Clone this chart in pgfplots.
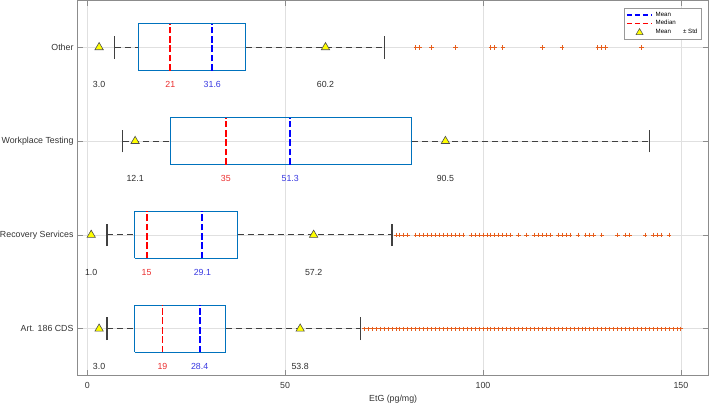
\documentclass[border=0pt]{standalone}
\usepackage{pgfplots}
\pgfplotsset{compat=1.18}
\usepackage{fontspec}
\setmainfont{Liberation Sans}
\definecolor{boxc}{RGB}{0,114,189}
\definecolor{outc}{RGB}{230,95,30}
\definecolor{medc}{RGB}{255,0,0}
\definecolor{meanc}{RGB}{0,0,255}
\definecolor{medtxt}{RGB}{235,45,45}
\definecolor{meantxt}{RGB}{55,55,225}
\definecolor{txtc}{RGB}{45,45,45}
\definecolor{trif}{RGB}{255,255,0}
\begin{document}
\begin{tikzpicture}
\begin{axis}[
  scale only axis, width=472.4pt, height=281pt,
  xmin=-2.4, xmax=157, ymin=0.5, ymax=4.5,
  xtick={0,50,100,150}, ytick={1,2,3,4},
  yticklabels={Art. 186 CDS, Recovery Services, Workplace Testing, Other},
  tick align=inside, major tick length=4.3pt,
  xtick pos=both, ytick pos=both,
  axis line style={black!45, line width=0.6pt},
  tick style={black!45, line width=0.5pt},
  grid=major, major grid style={black!12, line width=0.5pt},
  tick label style={font=\fontsize{6.6}{7.5}\selectfont, text=black!80},
  xticklabel style={yshift=-1.5pt},
  yticklabel style={inner xsep=0pt, xshift=-3pt},
  /pgf/number format/assume math mode=true,
  xlabel={EtG (pg/mg)},
  xlabel style={font=\fontsize{6.6}{7.5}\selectfont, text=black!80, yshift=2pt},
  legend style={at={(0.989,0.981)}, anchor=north east, draw=black!40, line width=0.4pt,
    font=\fontsize{4.6}{5}\selectfont, inner sep=1pt, row sep=-2.2pt, cells={anchor=west}},
  unbounded coords=jump,
]
% legend
\addlegendimage{meanc, line width=1.2pt, dash pattern=on 3.5pt off 2.5pt,
  legend image code/.code={\draw[meanc, line width=1.2pt, dash pattern=on 3.5pt off 2.5pt] (0pt,0pt) -- (19pt,0pt);}}
\addlegendentry{Mean}
\addlegendimage{medc, line width=1.2pt, dash pattern=on 3.5pt off 2.5pt,
  legend image code/.code={\draw[medc, line width=1.2pt, dash pattern=on 3.5pt off 2.5pt] (0pt,0pt) -- (19pt,0pt);}}
\addlegendentry{Median}
\addlegendimage{only marks,
  legend image code/.code={\draw[mark=triangle*, mark size=3pt, mark options={fill=trif, draw=black!70, line width=0.4pt}] plot coordinates {(9.5pt,0pt)};}}
\addlegendentry{Mean\hspace{9pt}±\ Std}

% whiskers (dashed)
\addplot[forget plot, black!75, line width=0.8pt, dash pattern=on 4.5pt off 3pt] coordinates {
 (7,4) (13,4) (nan,nan) (40,4) (75,4) (nan,nan)
 (9,3) (21,3) (nan,nan) (82,3) (142,3) (nan,nan)
 (5,2) (12,2) (nan,nan) (38,2) (77,2) (nan,nan)
 (5,1) (12,1) (nan,nan) (35,1) (69,1)
};
% whisker caps
\addplot[forget plot, black!75, line width=0.8pt] coordinates {
 (7,3.88) (7,4.12) (nan,nan) (75,3.88) (75,4.12) (nan,nan)
 (9,2.88) (9,3.12) (nan,nan) (142,2.88) (142,3.12) (nan,nan)
 (5,1.88) (5,2.12) (nan,nan) (77,1.88) (77,2.12) (nan,nan)
 (5,0.88) (5,1.12) (nan,nan) (69,0.88) (69,1.12)
};
% boxes
\addplot[forget plot, boxc, line width=0.8pt] coordinates {
 (13,3.75) (40,3.75) (40,4.25) (13,4.25) (13,3.75) (nan,nan)
 (21,2.75) (82,2.75) (82,3.25) (21,3.25) (21,2.75) (nan,nan)
 (12,1.75) (38,1.75) (38,2.25) (12,2.25) (12,1.75) (nan,nan)
 (12,0.75) (35,0.75) (35,1.25) (12,1.25) (12,0.75)
};
% medians
\addplot[forget plot, medc, line width=1.4pt, dash pattern=on 5pt off 2pt] coordinates {
 (21,3.75) (21,4.25) (nan,nan)
 (35,2.75) (35,3.25) (nan,nan)
 (15,1.75) (15,2.25) (nan,nan)
 (19,0.75) (19,1.25)
};
% means
\addplot[forget plot, meanc, line width=1.4pt, dash pattern=on 5pt off 2pt] coordinates {
 (31.6,3.75) (31.6,4.25) (nan,nan)
 (51.3,2.75) (51.3,3.25) (nan,nan)
 (29.1,1.75) (29.1,2.25) (nan,nan)
 (28.4,0.75) (28.4,1.25)
};
% mean +- std triangles
\addplot[forget plot, only marks, mark=triangle*, mark size=3.6pt,
  mark options={fill=trif, draw=black!70, line width=0.45pt}] coordinates {
 (3.0,4) (60.2,4) (12.1,3) (90.5,3) (1.0,2) (57.2,2) (3.0,1) (53.8,1)
};
% outliers
\addplot[forget plot, only marks, mark=+, mark size=1.65pt, outc, line width=0.65pt]
 table[row sep=\\] {
 x y\\
 83 4\\ 84 4\\ 87 4\\ 93 4\\ 102 4\\ 103 4\\ 105 4\\ 115 4\\ 120 4\\ 129 4\\ 130 4\\ 131 4\\ 140 4\\
 78 2\\ 79 2\\ 80 2\\ 81 2\\
 83 2\\ 84 2\\ 85 2\\ 86 2\\ 87 2\\ 88 2\\ 89 2\\ 90 2\\ 91 2\\ 92 2\\ 93 2\\ 94 2\\ 95 2\\
 97 2\\ 98 2\\ 99 2\\ 100 2\\ 101 2\\ 102 2\\ 103 2\\ 104 2\\ 105 2\\ 106 2\\ 107 2\\
 109 2\\ 111 2\\ 113 2\\ 114 2\\ 115 2\\ 116 2\\ 117 2\\ 119 2\\ 120 2\\ 121 2\\ 122 2\\
 124 2\\ 126 2\\ 127 2\\ 128 2\\ 130 2\\ 134 2\\ 136 2\\ 137 2\\ 141 2\\ 143 2\\ 144 2\\ 145 2\\ 147 2\\
 70 1\\ 71 1\\ 72 1\\ 73 1\\ 74 1\\ 75 1\\ 76 1\\ 77 1\\ 78 1\\ 79 1\\
 80 1\\ 81 1\\ 82 1\\ 83 1\\ 84 1\\ 85 1\\ 86 1\\ 87 1\\ 88 1\\ 89 1\\
 90 1\\ 91 1\\ 92 1\\ 93 1\\ 94 1\\ 95 1\\ 96 1\\ 97 1\\ 98 1\\ 99 1\\
 100 1\\ 101 1\\ 102 1\\ 103 1\\ 104 1\\ 105 1\\ 106 1\\ 107 1\\ 108 1\\ 109 1\\
 110 1\\ 111 1\\ 112 1\\ 113 1\\ 114 1\\ 115 1\\ 116 1\\ 117 1\\ 118 1\\ 119 1\\
 120 1\\ 121 1\\ 122 1\\ 123 1\\ 124 1\\ 125 1\\ 126 1\\ 127 1\\ 128 1\\ 129 1\\
 130 1\\ 131 1\\ 132 1\\ 133 1\\ 134 1\\ 135 1\\ 136 1\\ 137 1\\ 138 1\\ 139 1\\
 140 1\\ 141 1\\ 142 1\\ 143 1\\ 144 1\\ 145 1\\ 146 1\\ 147 1\\ 148 1\\ 149 1\\ 150 1\\
};
% value labels
\addplot[forget plot, draw=none, mark=none, nodes near coords, point meta=explicit symbolic,
  every node near coord/.append style={anchor=center, font=\fontsize{6.6}{7.5}\selectfont, text=txtc}]
 table[meta=lab, row sep=\\] {
 x y lab\\
 3.0 3.6 3.0\\ 60.2 3.6 60.2\\ 12.1 2.6 12.1\\ 90.5 2.6 90.5\\
 1.0 1.6 1.0\\ 57.2 1.6 57.2\\ 3.0 0.6 3.0\\ 53.8 0.6 53.8\\
};
\addplot[forget plot, draw=none, mark=none, nodes near coords, point meta=explicit symbolic,
  every node near coord/.append style={anchor=center, font=\fontsize{6.6}{7.5}\selectfont, text=medtxt}]
 table[meta=lab, row sep=\\] {
 x y lab\\
 21 3.6 21\\ 35 2.6 35\\ 15 1.6 15\\ 19 0.6 19\\
};
\addplot[forget plot, draw=none, mark=none, nodes near coords, point meta=explicit symbolic,
  every node near coord/.append style={anchor=center, font=\fontsize{6.6}{7.5}\selectfont, text=meantxt}]
 table[meta=lab, row sep=\\] {
 x y lab\\
 31.6 3.6 31.6\\ 51.3 2.6 51.3\\ 29.1 1.6 29.1\\ 28.4 0.6 28.4\\
};
\end{axis}
\end{tikzpicture}
\end{document}
